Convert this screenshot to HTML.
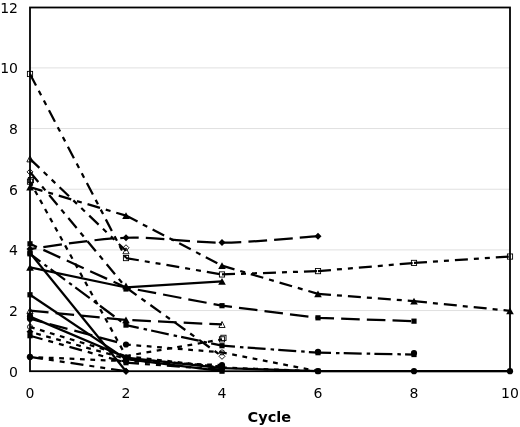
<!DOCTYPE html>
<html><head><meta charset="utf-8"><title>Cycle chart</title>
<style>html,body{margin:0;padding:0;background:#fff;overflow:hidden}svg{display:block}</style>
</head><body>
<svg width="520" height="427" viewBox="0 0 520 427">
<rect width="520" height="427" fill="#fff"/>
<line x1="30.0" y1="310.54" x2="510.0" y2="310.54" stroke="#e0e0e0" stroke-width="1"/>
<line x1="30.0" y1="249.88" x2="510.0" y2="249.88" stroke="#e0e0e0" stroke-width="1"/>
<line x1="30.0" y1="189.22" x2="510.0" y2="189.22" stroke="#e0e0e0" stroke-width="1"/>
<line x1="30.0" y1="128.56" x2="510.0" y2="128.56" stroke="#e0e0e0" stroke-width="1"/>
<line x1="30.0" y1="67.90" x2="510.0" y2="67.90" stroke="#e0e0e0" stroke-width="1"/>
<line x1="30.00" y1="158.89" x2="126.00" y2="250.79" stroke="#000" stroke-width="2.25" stroke-dasharray="13 6 5 6 5 6"/>
<line x1="30.00" y1="171.93" x2="126.00" y2="287.49" stroke="#000" stroke-width="2.25" stroke-dasharray="13 6 5 6"/>
<line x1="126.00" y1="287.49" x2="222.00" y2="356.34" stroke="#000" stroke-width="2.25" stroke-dasharray="13 6 5 6"/>
<line x1="30.00" y1="181.64" x2="126.00" y2="356.03" stroke="#000" stroke-width="2.25" stroke-dasharray="4.8 5.6"/>
<line x1="126.00" y1="356.03" x2="222.00" y2="339.35" stroke="#000" stroke-width="2.25" stroke-dasharray="4.8 5.6"/>
<line x1="30.00" y1="73.97" x2="126.00" y2="258.07" stroke="#000" stroke-width="2.25" stroke-dasharray="13 6 5 6 5 6"/>
<line x1="126.00" y1="258.07" x2="222.00" y2="274.45" stroke="#000" stroke-width="2.25" stroke-dasharray="13 6 5 6 5 6"/>
<line x1="222.00" y1="274.45" x2="318.00" y2="271.11" stroke="#000" stroke-width="2.25" stroke-dasharray="13 6 5 6 5 6"/>
<line x1="318.00" y1="271.11" x2="414.00" y2="262.92" stroke="#000" stroke-width="2.25" stroke-dasharray="13 6 5 6 5 6"/>
<line x1="414.00" y1="262.92" x2="510.00" y2="256.55" stroke="#000" stroke-width="2.25" stroke-dasharray="13 6 5 6 5 6"/>
<line x1="30.00" y1="187.10" x2="126.00" y2="215.61" stroke="#000" stroke-width="2.25" stroke-dasharray="13 6 5 6"/>
<line x1="126.00" y1="215.61" x2="222.00" y2="265.65" stroke="#000" stroke-width="2.25" stroke-dasharray="13 6 5 6"/>
<line x1="222.00" y1="265.65" x2="318.00" y2="293.86" stroke="#000" stroke-width="2.25" stroke-dasharray="13 6 5 6"/>
<line x1="318.00" y1="293.86" x2="414.00" y2="301.14" stroke="#000" stroke-width="2.25" stroke-dasharray="13 6 5 6"/>
<line x1="414.00" y1="301.14" x2="510.00" y2="310.84" stroke="#000" stroke-width="2.25" stroke-dasharray="13 6 5 6"/>
<path d="M30.00,248.97 C46.00,247.10 94.00,238.81 126.00,237.75 C158.00,236.69 190.00,242.85 222.00,242.60 C254.00,242.35 302.00,237.29 318.00,236.23" fill="none" stroke="#000" stroke-width="2.25" stroke-dasharray="18.6 7.1" stroke-dashoffset="12"/>
<polyline points="30.00,243.81 126.00,287.49 222.00,305.69 318.00,317.82 414.00,321.16" fill="none" stroke="#000" stroke-width="2.25" stroke-linejoin="round" stroke-dasharray="18.6 7.1" stroke-dashoffset="11"/>
<line x1="30.00" y1="267.47" x2="126.00" y2="287.49" stroke="#000" stroke-width="2.25"/>
<line x1="126.00" y1="287.49" x2="222.00" y2="281.42" stroke="#000" stroke-width="2.25"/>
<polyline points="30.00,310.54 126.00,319.94 222.00,324.49" fill="none" stroke="#000" stroke-width="2.25" stroke-linejoin="round" stroke-dasharray="18.6 7.1" stroke-dashoffset="0"/>
<line x1="30.00" y1="253.82" x2="126.00" y2="325.10" stroke="#000" stroke-width="2.25" stroke-dasharray="18 5 3.5 4.2" stroke-dashoffset="5"/>
<line x1="126.00" y1="325.10" x2="222.00" y2="345.72" stroke="#000" stroke-width="2.25" stroke-dasharray="18 5 3.5 4.2" stroke-dashoffset="5"/>
<line x1="222.00" y1="345.72" x2="318.00" y2="352.70" stroke="#000" stroke-width="2.25" stroke-dasharray="18 5 3.5 4.2" stroke-dashoffset="5"/>
<line x1="318.00" y1="352.70" x2="414.00" y2="354.52" stroke="#000" stroke-width="2.25" stroke-dasharray="18 5 3.5 4.2" stroke-dashoffset="5"/>
<line x1="30.00" y1="318.73" x2="126.00" y2="344.51" stroke="#000" stroke-width="2.25" stroke-dasharray="18.6 7.1" stroke-dashoffset="5.5"/>
<line x1="126.00" y1="344.51" x2="222.00" y2="352.40" stroke="#000" stroke-width="2.25" stroke-dasharray="4.8 5.6"/>
<line x1="222.00" y1="352.40" x2="318.00" y2="371.20" stroke="#000" stroke-width="2.25" stroke-dasharray="4.8 5.6"/>
<line x1="30.00" y1="316.61" x2="126.00" y2="357.55" stroke="#000" stroke-width="2.25"/>
<line x1="126.00" y1="357.55" x2="222.00" y2="368.17" stroke="#000" stroke-width="2.25"/>
<line x1="222.00" y1="368.17" x2="318.00" y2="371.20" stroke="#000" stroke-width="2.25"/>
<line x1="318.00" y1="371.20" x2="414.00" y2="371.20" stroke="#000" stroke-width="2.25"/>
<line x1="414.00" y1="371.20" x2="510.00" y2="371.20" stroke="#000" stroke-width="2.25"/>
<line x1="30.00" y1="252.91" x2="126.00" y2="371.20" stroke="#000" stroke-width="2.25"/>
<line x1="30.00" y1="294.77" x2="126.00" y2="359.07" stroke="#000" stroke-width="2.25"/>
<line x1="126.00" y1="359.07" x2="222.00" y2="371.20" stroke="#000" stroke-width="2.25"/>
<line x1="30.00" y1="326.92" x2="126.00" y2="356.03" stroke="#000" stroke-width="2.25" stroke-dasharray="4.8 5.6"/>
<line x1="126.00" y1="356.03" x2="222.00" y2="367.56" stroke="#000" stroke-width="2.25" stroke-dasharray="4.8 5.6"/>
<line x1="222.00" y1="367.56" x2="318.00" y2="371.20" stroke="#000" stroke-width="2.25" stroke-dasharray="4.8 5.6"/>
<line x1="30.00" y1="331.77" x2="126.00" y2="358.76" stroke="#000" stroke-width="2.25" stroke-dasharray="4.8 5.6" stroke-dashoffset="4"/>
<line x1="126.00" y1="358.76" x2="222.00" y2="366.65" stroke="#000" stroke-width="2.25" stroke-dasharray="4.8 5.6" stroke-dashoffset="4"/>
<line x1="30.00" y1="335.71" x2="126.00" y2="362.71" stroke="#000" stroke-width="2.25" stroke-dasharray="13 6 5 6 5 6"/>
<line x1="126.00" y1="362.71" x2="222.00" y2="369.68" stroke="#000" stroke-width="2.25" stroke-dasharray="13 6 5 6 5 6"/>
<line x1="30.00" y1="356.94" x2="126.00" y2="361.19" stroke="#000" stroke-width="2.25" stroke-dasharray="4.8 5.6" stroke-dashoffset="2"/>
<line x1="126.00" y1="361.19" x2="222.00" y2="365.13" stroke="#000" stroke-width="2.25" stroke-dasharray="4.8 5.6" stroke-dashoffset="2"/>
<line x1="30.00" y1="356.94" x2="126.00" y2="371.20" stroke="#000" stroke-width="2.25" stroke-dasharray="13 6 5 6 5 6"/>
<polygon points="30.00,155.89 33.10,161.89 26.90,161.89" fill="none" stroke="#000" stroke-width="0.9"/>
<polygon points="126.00,247.79 129.10,253.79 122.90,253.79" fill="none" stroke="#000" stroke-width="0.9"/>
<polygon points="30.00,168.93 33.00,171.93 30.00,174.93 27.00,171.93" fill="none" stroke="#000" stroke-width="0.9"/>
<polygon points="126.00,244.76 129.00,247.76 126.00,250.76 123.00,247.76" fill="none" stroke="#000" stroke-width="0.9"/>
<polygon points="222.00,353.34 225.00,356.34 222.00,359.34 219.00,356.34" fill="none" stroke="#000" stroke-width="0.9"/>
<rect x="27.40" y="179.04" width="5.2" height="5.2" fill="none" stroke="#000" stroke-width="0.9"/>
<rect x="219.40" y="336.75" width="5.2" height="5.2" fill="none" stroke="#000" stroke-width="0.9"/>
<rect x="28.36" y="177.52" width="5.2" height="5.2" fill="none" stroke="#000" stroke-width="0.9"/>
<rect x="220.84" y="335.24" width="5.2" height="5.2" fill="none" stroke="#000" stroke-width="0.9"/>
<rect x="27.40" y="71.37" width="5.2" height="5.2" fill="none" stroke="#000" stroke-width="0.9"/>
<rect x="123.40" y="255.47" width="5.2" height="5.2" fill="none" stroke="#000" stroke-width="0.9"/>
<rect x="219.40" y="271.85" width="5.2" height="5.2" fill="none" stroke="#000" stroke-width="0.9"/>
<rect x="315.40" y="268.51" width="5.2" height="5.2" fill="none" stroke="#000" stroke-width="0.9"/>
<rect x="411.40" y="260.32" width="5.2" height="5.2" fill="none" stroke="#000" stroke-width="0.9"/>
<rect x="507.40" y="253.95" width="5.2" height="5.2" fill="none" stroke="#000" stroke-width="0.9"/>
<polygon points="30.00,183.70 33.80,190.50 26.20,190.50" fill="#000"/>
<polygon points="126.00,212.21 129.80,219.01 122.20,219.01" fill="#000"/>
<polygon points="222.00,262.25 225.80,269.05 218.20,269.05" fill="#000"/>
<polygon points="318.00,290.46 321.80,297.26 314.20,297.26" fill="#000"/>
<polygon points="414.00,297.74 417.80,304.54 410.20,304.54" fill="#000"/>
<polygon points="510.00,307.44 513.80,314.24 506.20,314.24" fill="#000"/>
<polygon points="30.00,245.47 33.50,248.97 30.00,252.47 26.50,248.97" fill="#000"/>
<polygon points="126.00,234.25 129.50,237.75 126.00,241.25 122.50,237.75" fill="#000"/>
<polygon points="222.00,239.10 225.50,242.60 222.00,246.10 218.50,242.60" fill="#000"/>
<polygon points="318.00,232.73 321.50,236.23 318.00,239.73 314.50,236.23" fill="#000"/>
<rect x="27.40" y="241.21" width="5.2" height="5.2" fill="#000"/>
<rect x="123.40" y="286.41" width="5.2" height="5.2" fill="#000"/>
<rect x="219.40" y="303.09" width="5.2" height="5.2" fill="#000"/>
<rect x="315.40" y="315.22" width="5.2" height="5.2" fill="#000"/>
<rect x="411.40" y="318.56" width="5.2" height="5.2" fill="#000"/>
<polygon points="30.00,264.07 33.80,270.87 26.20,270.87" fill="#000"/>
<polygon points="126.00,282.57 129.80,289.37 122.20,289.37" fill="#000"/>
<polygon points="222.00,278.02 225.80,284.82 218.20,284.82" fill="#000"/>
<polygon points="30.00,307.54 33.10,313.54 26.90,313.54" fill="none" stroke="#000" stroke-width="0.9"/>
<polygon points="222.00,321.49 225.10,327.49 218.90,327.49" fill="none" stroke="#000" stroke-width="0.9"/>
<polygon points="126.00,316.54 129.80,323.34 122.20,323.34" fill="#000"/>
<rect x="27.40" y="251.22" width="5.2" height="5.2" fill="#000"/>
<rect x="123.40" y="322.50" width="5.2" height="5.2" fill="#000"/>
<rect x="219.40" y="343.12" width="5.2" height="5.2" fill="#000"/>
<rect x="315.40" y="350.10" width="5.2" height="5.2" fill="#000"/>
<rect x="411.40" y="351.92" width="5.2" height="5.2" fill="#000"/>
<circle cx="30.00" cy="318.73" r="3.1" fill="#000"/>
<circle cx="126.00" cy="344.51" r="3.1" fill="#000"/>
<circle cx="318.00" cy="351.79" r="3.1" fill="#000"/>
<circle cx="414.00" cy="353.00" r="3.1" fill="#000"/>
<rect x="315.40" y="368.60" width="5.2" height="5.2" fill="#000"/>
<circle cx="222.00" cy="352.40" r="2.5" fill="none" stroke="#000" stroke-width="0.9"/>
<circle cx="30.00" cy="315.09" r="2.5" fill="none" stroke="#000" stroke-width="0.9"/>
<circle cx="30.00" cy="316.61" r="3.1" fill="#000"/>
<circle cx="126.00" cy="357.55" r="3.1" fill="#000"/>
<circle cx="222.00" cy="368.17" r="3.1" fill="#000"/>
<circle cx="318.00" cy="371.20" r="3.1" fill="#000"/>
<circle cx="414.00" cy="371.20" r="3.1" fill="#000"/>
<circle cx="510.00" cy="371.20" r="3.1" fill="#000"/>
<rect x="27.40" y="250.31" width="5.2" height="5.2" fill="#000"/>
<polygon points="126.00,367.70 129.50,371.20 126.00,374.70 122.50,371.20" fill="#000"/>
<rect x="27.40" y="292.17" width="5.2" height="5.2" fill="#000"/>
<rect x="123.40" y="356.47" width="5.2" height="5.2" fill="#000"/>
<rect x="219.40" y="368.60" width="5.2" height="5.2" fill="#000"/>
<circle cx="30.00" cy="326.92" r="2.5" fill="none" stroke="#000" stroke-width="0.9"/>
<polygon points="30.00,328.27 33.50,331.77 30.00,335.27 26.50,331.77" fill="#000"/>
<polygon points="126.00,355.26 129.50,358.76 126.00,362.26 122.50,358.76" fill="#000"/>
<polygon points="222.00,363.15 225.50,366.65 222.00,370.15 218.50,366.65" fill="#000"/>
<rect x="27.40" y="333.11" width="5.2" height="5.2" fill="#000"/>
<rect x="123.40" y="360.11" width="5.2" height="5.2" fill="#000"/>
<rect x="219.40" y="367.08" width="5.2" height="5.2" fill="#000"/>
<circle cx="30.00" cy="356.94" r="3.1" fill="#000"/>
<circle cx="126.00" cy="361.19" r="3.1" fill="#000"/>
<circle cx="222.00" cy="365.13" r="3.1" fill="#000"/>
<polygon points="30.00,353.44 33.50,356.94 30.00,360.44 26.50,356.94" fill="#000"/>
<polygon points="126.00,367.70 129.50,371.20 126.00,374.70 122.50,371.20" fill="#000"/>
<rect x="30.0" y="7.5" width="480.0" height="363.7" fill="none" stroke="#000" stroke-width="1.8"/>
<g font-family="'DejaVu Sans', 'Liberation Sans', sans-serif" font-size="14" fill="#000">
<text x="18" y="376.50" text-anchor="end">0</text>
<text x="18" y="315.84" text-anchor="end">2</text>
<text x="18" y="255.18" text-anchor="end">4</text>
<text x="18" y="194.52" text-anchor="end">6</text>
<text x="18" y="133.86" text-anchor="end">8</text>
<text x="18" y="73.20" text-anchor="end">10</text>
<text x="18" y="12.54" text-anchor="end">12</text>
<text x="30.00" y="397.7" text-anchor="middle">0</text>
<text x="126.00" y="397.7" text-anchor="middle">2</text>
<text x="222.00" y="397.7" text-anchor="middle">4</text>
<text x="318.00" y="397.7" text-anchor="middle">6</text>
<text x="414.00" y="397.7" text-anchor="middle">8</text>
<text x="510.00" y="397.7" text-anchor="middle">10</text>
<text x="269.3" y="421.6" text-anchor="middle" font-weight="bold" font-size="14.5">Cycle</text>
</g>
</svg>
</body></html>
